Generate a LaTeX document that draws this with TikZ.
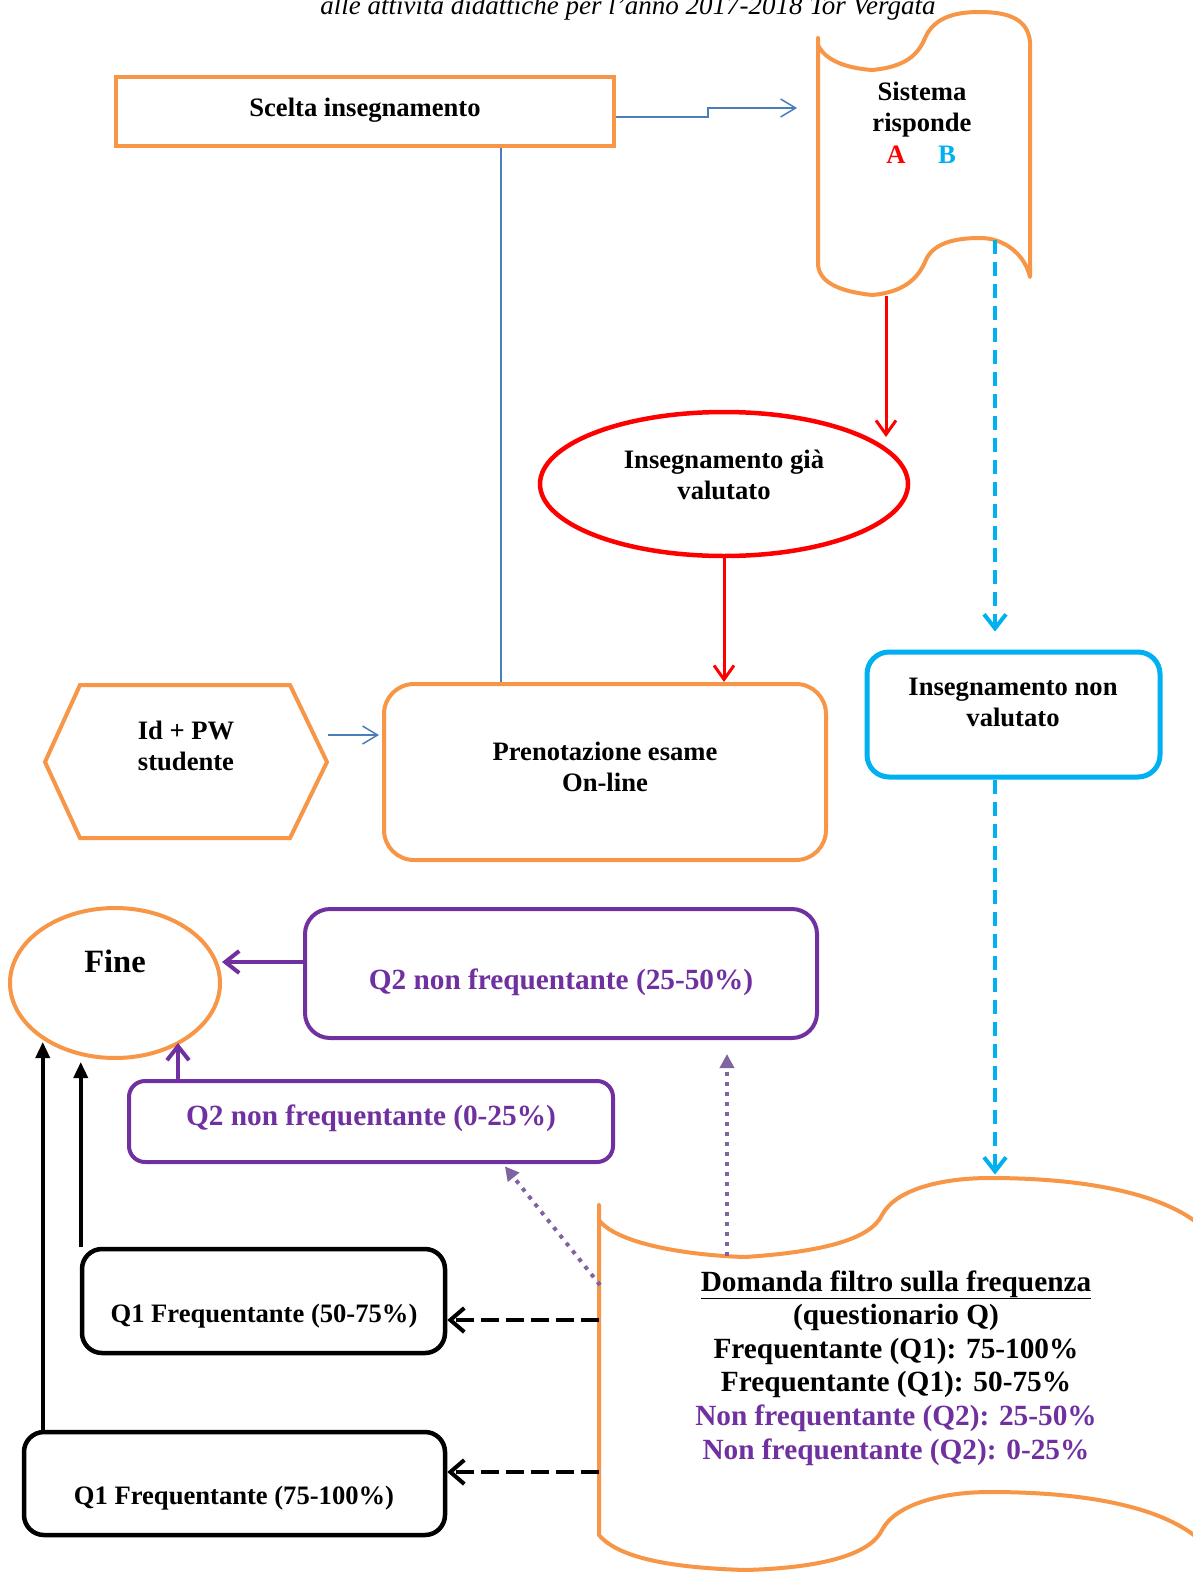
\documentclass[tikz,border=0pt]{standalone}
\usepackage{fontspec}
\setmainfont{Liberation Serif}
\usetikzlibrary{arrows.meta,shapes.geometric,calc}
\definecolor{orng}{HTML}{F79646}
\definecolor{rd}{HTML}{FF0000}
\definecolor{cyn}{HTML}{00B0F0}
\definecolor{prpl}{HTML}{7030A0}
\definecolor{lprpl}{HTML}{8064A2}
\definecolor{blu}{HTML}{4A7EBB}
\begin{document}
\begin{tikzpicture}[x=1pt,y=-1pt,
  txt/.style={font=\fontsize{26.6}{31}\selectfont\bfseries, align=center, inner sep=0pt, anchor=base},
  qtxt/.style={font=\fontsize{29.3}{33}\selectfont\bfseries, align=center, inner sep=0pt, anchor=base},
  bigtxt/.style={font=\fontsize{29.3}{33.6}\selectfont\bfseries, align=center, inner sep=0pt, anchor=base},
  obox/.style={rectangle, draw=orng, line width=4pt, inner sep=0pt},
  rbox/.style={rectangle, line width=4pt, inner sep=0pt, rounded corners=#1},
  elli/.style={ellipse, line width=4pt, inner sep=0pt},
  tape/.style={draw=orng, line width=4pt, line join=round},
  bluearr/.style={draw=blu, line width=1.5pt, -{Straight Barb[length=15pt,width=18pt]}},
  redarr/.style={draw=rd, line width=3pt, -{Straight Barb[length=14pt,width=20pt]}},
  cyanarr/.style={draw=cyn, line width=4pt, dash pattern=on 14pt off 8pt, -{Straight Barb[length=14pt,width=22pt]}},
  purarr/.style={draw=prpl, line width=4pt, -{Straight Barb[length=14pt,width=22pt]}},
  dotarr/.style={draw=lprpl, line width=4pt, dash pattern=on 4pt off 6pt, -{Triangle[length=14pt,width=14pt]}},
  blkdash/.style={draw=black, line width=4pt, dash pattern=on 18pt off 7pt, -{Straight Barb[length=14pt,width=24pt]}},
  blkarr/.style={draw=black, line width=3.5pt, -{Triangle[length=16pt,width=14pt]}}
]
\useasboundingbox (0,0) rectangle (1192,1573);
\fill[white] (0,0) rectangle (1192,1573);

% caption (cut by top edge)
\node[font=\fontsize{27}{32}\selectfont\itshape, inner sep=0pt, anchor=base] (cap) at (628,15) {alle attività didattiche per l’anno 2017-2018 Tor Vergata};

% Scelta insegnamento
\node[obox, minimum width=498pt, minimum height=69pt] (scelta) at (365,111.5) {};
\node[txt] (sceltaT) at (365,117) {Scelta insegnamento};

% Sistema risponde tape
\draw[tape] (818,38) -- (818,265) .. controls (820,285) and (845,292) .. (872,295)
  .. controls (895,293) and (915,285) .. (925,262)
  .. controls (932,243) and (955,238) .. (980,238)
  .. controls (1005,238) and (1025,255) .. (1030,277)
  -- (1030,42) .. controls (1028,20) and (1010,12) .. (980,12)
  .. controls (960,12) and (935,15) .. (925,38)
  .. controls (918,55) and (905,67) .. (872,70)
  .. controls (845,68) and (825,60) .. (818,45) -- cycle;
\node[txt] (sistT) at (922,132) {Sistema\\risponde};
\node[txt, text=rd] (sistA) at (896,164) {A};
\node[txt, text=cyn] (sistB) at (947,164) {B};
\coordinate (sisA) at (886,296);
\coordinate (sisB) at (995,240);

% Insegnamento gia valutato
\node[elli, draw=rd, line width=4.5pt, minimum width=368pt, minimum height=144pt] (gia) at (724,484) {};
\node[txt] (giaT) at (724,499) {Insegnamento già\\valutato};

% Insegnamento non valutato
\node[rbox=22pt, draw=cyn, line width=5pt, minimum width=293pt, minimum height=125pt] (nonval) at (1013.5,714.5) {};
\node[txt] (nonvalT) at (1013,726) {Insegnamento non\\valutato};

% Id + PW studente hexagon
\draw[tape, line join=miter] (45,762) -- (80,685) -- (290,685) -- (327,762) -- (290,838) -- (80,838) -- cycle;
\node[txt] (idT) at (186,770) {Id + PW\\studente};
\coordinate (hexR) at (328,735);

% Prenotazione esame
\node[rbox=30pt, draw=orng, minimum width=442pt, minimum height=176pt] (prenot) at (605,772) {};
\node[txt] (prenotT) at (605,791) {Prenotazione esame\\On-line};

% Fine
\node[elli, draw=orng, minimum width=210pt, minimum height=150pt] (fine) at (115,983) {};
\node[txt, font=\fontsize{32.5}{37}\selectfont\bfseries] (fineT) at (115,972) {Fine};

% Q2 boxes
\node[rbox=25pt, draw=prpl, minimum width=512pt, minimum height=129pt] (q2b) at (561,973.5) {};
\node[qtxt, text=prpl] (q2bT) at (561,989) {Q2 non frequentante (25-50\%)};
\node[rbox=16pt, draw=prpl, minimum width=484pt, minimum height=81pt] (q2a) at (371,1121.5) {};
\node[qtxt, text=prpl] (q2aT) at (371,1125) {Q2 non frequentante (0-25\%)};

% Q1 boxes
\node[rbox=20pt, draw=black, line width=4.5pt, minimum width=363pt, minimum height=104pt] (q1a) at (263.5,1301) {};
\node[txt] (q1aT) at (264,1322) {Q1 Frequentante (50-75\%)};
\node[rbox=20pt, draw=black, line width=4.5pt, minimum width=421pt, minimum height=103pt] (q1b) at (234.5,1483.5) {};
\node[txt] (q1bT) at (234,1504) {Q1 Frequentante (75-100\%)};

% Domanda filtro tape (right part runs off the page)
\draw[tape] (599,1205) -- (599,1535)
  .. controls (620,1560) and (680,1568) .. (745,1570)
  .. controls (820,1568) and (870,1555) .. (882,1530)
  .. controls (895,1505) and (940,1492) .. (990,1492)
  .. controls (1080,1492) and (1160,1505) .. (1200,1540)
  -- (1230,1560) -- (1230,1240) -- (1200,1225)
  .. controls (1160,1192) and (1080,1178) .. (990,1178)
  .. controls (940,1178) and (895,1190) .. (882,1215)
  .. controls (870,1240) and (820,1252) .. (745,1257)
  .. controls (680,1255) and (615,1242) .. (599,1220) -- cycle;
\node[bigtxt] (domT) at (896,1459) {\underline{Domanda filtro sulla frequenza}\\(questionario Q)\\Frequentante (Q1): 75-100\%\\Frequentante (Q1): 50-75\%\\\textcolor{prpl}{Non frequentante (Q2): 25-50\%}\\\textcolor{prpl}{Non frequentante (Q2): 0-25\%}};
\coordinate (domL) at (599,1320);
\coordinate (domL2) at (599,1472);
\coordinate (domD) at (600,1285);
\coordinate (domV) at (727,1256);

% connectors
\draw[bluearr] ([yshift=-5.5pt]scelta.east) -- ++(92,0) -- ++(0,-9) -- ++(89,0);
\draw[draw=blu, line width=1.5pt] ([xshift=136pt]scelta.south) -- ([xshift=136pt]scelta.south |- prenot.north);
\draw[bluearr, shorten >=3pt] (hexR) -- (hexR -| prenot.west);
\draw[redarr] (sisA) -- ++(0,141);
\draw[redarr] (gia.south) -- (gia.south |- prenot.north);
\draw[cyanarr, shorten >=18pt] (sisB) -- (sisB |- nonval.north);
\draw[cyanarr] (nonval.south -| sisB) -- ++(0,395);
\path ([yshift=11.5pt]q2b.west) coordinate (q2bL);
\draw[purarr] (q2bL) -- (q2bL -| fine.east);
\path ([xshift=51pt]q2a.north west) coordinate (q2aT0);
\draw[purarr, shorten >=-17pt] (q2aT0) -- (q2aT0 |- fine.south);
\draw[dotarr, shorten >=14pt] (domV) -- (domV |- q2b.south);
\draw[dotarr, shorten >=3pt] (domD) -- ([xshift=376pt]q2a.south west);
\draw[blkdash] (domL) -- (domL -| q1a.east);
\draw[blkdash] (domL2) -- (domL2 -| q1b.east);
\path ([xshift=1pt]q1a.north west) coordinate (q1aT0);
\draw[blkarr, shorten >=2pt] (q1aT0) -- (q1aT0 |- fine.south);
\path ([xshift=21pt]q1b.north west) coordinate (q1bT0);
\draw[blkarr, shorten >=-18pt] (q1bT0) -- (q1bT0 |- fine.south);
\end{tikzpicture}
\end{document}
